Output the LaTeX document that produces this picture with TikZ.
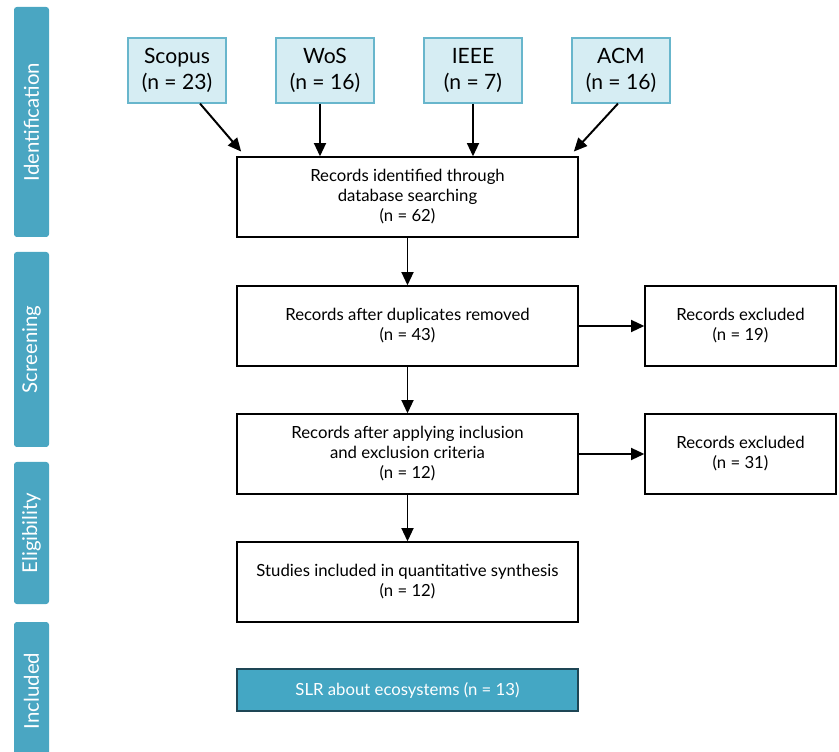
\documentclass[tikz,border=0pt]{standalone}
\usepackage{fontspec}
\setmainfont{Lato}
\usepackage{tikz}
\usetikzlibrary{arrows.meta,positioning}
\definecolor{prbar}{RGB}{74,166,194}
\definecolor{prsrc}{RGB}{214,237,243}
\definecolor{prsrcline}{RGB}{104,182,204}
\definecolor{prslr}{RGB}{68,167,196}
\definecolor{prslrline}{RGB}{30,70,85}

\begin{document}
\begin{tikzpicture}[
    phase/.style={fill=prbar, rounded corners=2pt, minimum width=0.875cm, text=white,
      font=\fontsize{14.5}{16}\selectfont, inner sep=0pt},
    source/.style={draw=prsrcline, fill=prsrc, line width=0.8pt, minimum width=2.45cm,
      minimum height=1.625cm, align=center, font=\fontsize{15}{18.5}\selectfont},
    record/.style={draw=black, line width=0.9pt, minimum width=8.525cm, minimum height=2cm,
      align=center, font=\fontsize{11.9}{14.2}\selectfont},
    excluded/.style={record, minimum width=4.775cm},
    flow/.style={-{Triangle[length=9.5pt,width=8.5pt]}, line width=1.4pt}
  ]
  \useasboundingbox (0,0) rectangle (20.975,-18.8);
  % Phase bars on the left
  \node[phase, minimum height=5.75cm] (ident) at (0.7875,-3.05) {\rotatebox{90}{Identification}};
  \node[phase, minimum height=4.875cm] (screen) at (0.7875,-8.7375) {\rotatebox{90}{Screening}};
  \node[phase, minimum height=3.55cm] (elig) at (0.7875,-13.325) {\rotatebox{90}{Eligibility}};
  \node[phase, minimum height=3.45cm] (incl) at (0.7875,-17.275) {\rotatebox{90}{Included}};
  % Databases
  \node[source] (scopus) at (4.425,-1.7625) {Scopus\\(n = 23)};
  \node[source] (wos) at (8.125,-1.7625) {WoS\\(n = 16)};
  \node[source] (ieee) at (11.825,-1.7625) {IEEE\\(n = 7)};
  \node[source] (acm) at (15.525,-1.7625) {ACM\\(n = 16)};
  % Main flow
  \node[record] (found) at (10.1875,-4.925) {Records identified through\\database searching\\(n = 62)};
  \node[record] (dedup) at (10.1875,-8.15) {Records after duplicates removed\\(n = 43)};
  \node[record] (criteria) at (10.1875,-11.35) {Records after applying inclusion\\and exclusion criteria\\(n = 12)};
  \node[record] (studies) at (10.1875,-14.55) {Studies included in quantitative synthesis\\(n = 12)};
  \node[record, fill=prslr, draw=prslrline, text=white, minimum height=1.05cm] (slr) at (10.1875,-17.25)
    {SLR about ecosystems (n = 13)};
  % Excluded records
  \node[excluded] (excl1) at (18.5125,-8.15) {Records excluded\\(n = 19)};
  \node[excluded] (excl2) at (18.5125,-11.35) {Records excluded\\(n = 31)};
  % Arrows
  \draw[flow] ([xshift=0.575cm]scopus.south) -- ([shift={(0.12cm,0.12cm)}]found.north west);
  \draw[flow] ([xshift=-0.125cm]wos.south) -- ([xshift=-0.125cm]wos.south |- found.north);
  \draw[flow] (ieee.south) -- (ieee.south |- found.north);
  \draw[flow] ([xshift=-0.075cm]acm.south) -- ([shift={(-0.12cm,0.12cm)}]found.north east);
  \draw[flow] (found) -- (dedup);
  \draw[flow] (dedup) -- (criteria);
  \draw[flow] (criteria) -- (studies);
  \draw[flow] (dedup) -- (excl1);
  \draw[flow] (criteria) -- (excl2);
\end{tikzpicture}
\end{document}
